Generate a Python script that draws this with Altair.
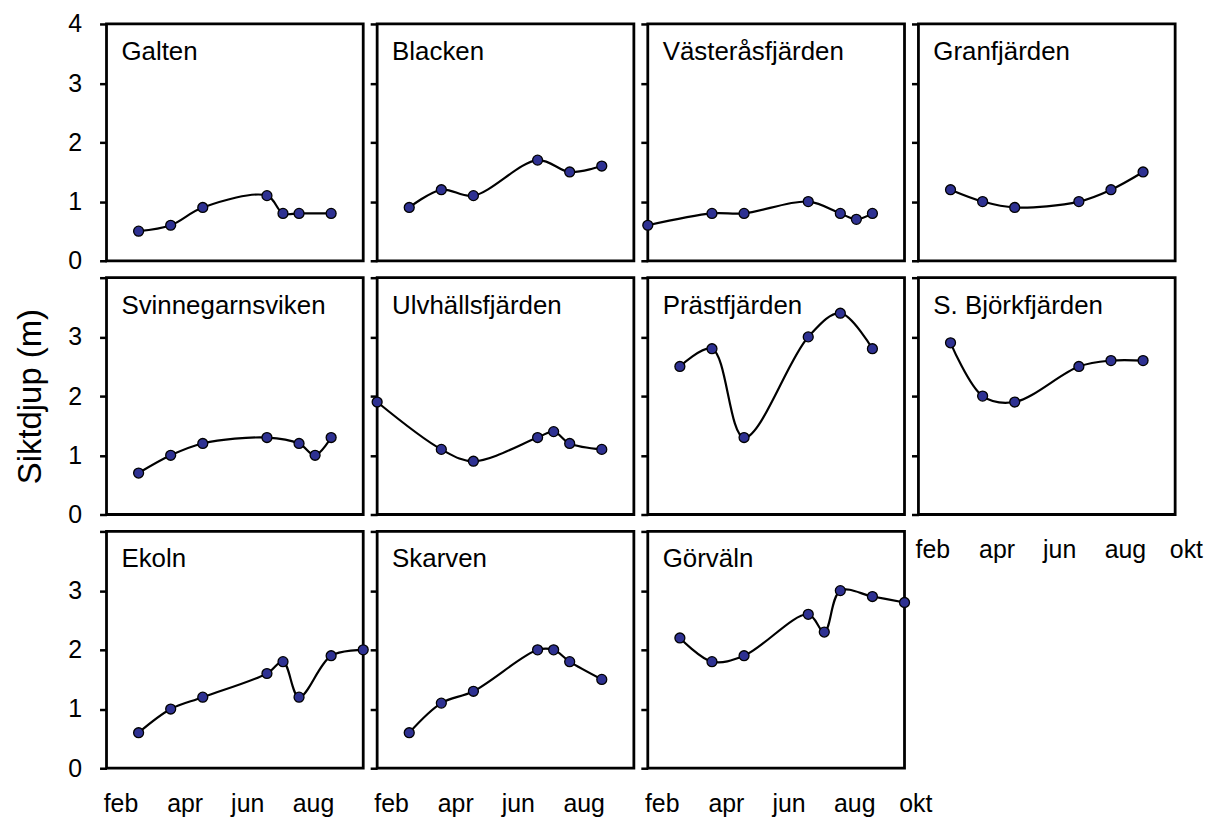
import altair as alt
import pandas as pd

FONT = "Liberation Sans"

# ---- data (months: 2 = 1 Feb, 3 = 1 Mar, ... 10 = 1 Oct) ----
lakes = ["Galten", "Blacken", "Västeråsfjärden", "Granfjärden",
         "Svinnegarnsviken", "Ulvhällsfjärden", "Prästfjärden", "S. Björkfjärden",
         "Ekoln", "Skarven", "Görväln"]

galten_month = [3, 4, 5, 7, 7.5, 8, 9]
galten_depth = [0.5, 0.6, 0.9, 1.1, 0.8, 0.8, 0.8]

blacken_month = [3, 4, 5, 7, 8, 9]
blacken_depth = [0.9, 1.2, 1.1, 1.7, 1.5, 1.6]

vasteras_month = [2, 4, 5, 7, 8, 8.5, 9]
vasteras_depth = [0.6, 0.8, 0.8, 1.0, 0.8, 0.7, 0.8]

granfjarden_month = [3, 4, 5, 7, 8, 9]
granfjarden_depth = [1.2, 1.0, 0.9, 1.0, 1.2, 1.5]

svinne_month = [3, 4, 5, 7, 8, 8.5, 9]
svinne_depth = [0.7, 1.0, 1.2, 1.3, 1.2, 1.0, 1.3]

ulv_month = [2, 4, 5, 7, 7.5, 8, 9]
ulv_depth = [1.9, 1.1, 0.9, 1.3, 1.4, 1.2, 1.1]

prast_month = [3, 4, 5, 7, 8, 9]
prast_depth = [2.5, 2.8, 1.3, 3.0, 3.4, 2.8]

bjork_month = [3, 4, 5, 7, 8, 9]
bjork_depth = [2.9, 2.0, 1.9, 2.5, 2.6, 2.6]

ekoln_month = [3, 4, 5, 7, 7.5, 8, 9, 10]
ekoln_depth = [0.6, 1.0, 1.2, 1.6, 1.8, 1.2, 1.9, 2.0]

skarven_month = [3, 4, 5, 7, 7.5, 8, 9]
skarven_depth = [0.6, 1.1, 1.3, 2.0, 2.0, 1.8, 1.5]

gorvaln_month = [3, 4, 5, 7, 7.5, 8, 9, 10]
gorvaln_depth = [2.2, 1.8, 1.9, 2.6, 2.3, 3.0, 2.9, 2.8]

month_labels = ["feb", "apr", "jun", "aug", "okt"]
month_label_pos = [2.45, 4.45, 6.4, 8.45, 10.35]
y_ticks = [0, 1, 2, 3, 4]

series = [
    (galten_month, galten_depth), (blacken_month, blacken_depth),
    (vasteras_month, vasteras_depth), (granfjarden_month, granfjarden_depth),
    (svinne_month, svinne_depth), (ulv_month, ulv_depth),
    (prast_month, prast_depth), (bjork_month, bjork_depth),
    (ekoln_month, ekoln_depth), (skarven_month, skarven_depth),
    (gorvaln_month, gorvaln_depth),
]
# how many month labels go below each panel (0 = none)
labels_below = [0, 0, 0, 0, 0, 0, 0, 5, 4, 4, 5]

W, H = 258, 238
XSCALE = alt.Scale(domain=[2, 10], nice=False)
YSCALE = alt.Scale(domain=[0, 4], nice=False)


def panel(i):
    name = lakes[i]
    months, depths = series[i]
    df = pd.DataFrame({"month": months, "depth": depths})
    col, row = i % 4, i // 4
    axis_kw = dict(values=y_ticks, tickSize=7, tickWidth=2.5, tickColor="black",
                   domain=False, grid=False)
    if col == 0:
        axis_kw.update(labels=True, labelFontSize=25, labelFont=FONT,
                       labelColor="black", labelPadding=18)
        if row > 0:
            axis_kw["labelExpr"] = "datum.value == 4 ? '' : datum.label"
    else:
        axis_kw.update(labels=False)
    if i == 4:
        axis_kw.update(title="Siktdjup (m)", titleFontSize=33, titleFont=FONT,
                       titleFontWeight="normal", titleColor="black", titlePadding=20)
    else:
        axis_kw.update(title=None)
    yaxis = alt.Axis(**axis_kw)

    x = alt.X("month:Q", scale=XSCALE, axis=None)
    y = alt.Y("depth:Q", scale=YSCALE, axis=yaxis)

    line = alt.Chart(df).mark_line(
        interpolate="catmull-rom", color="black", strokeWidth=2.2
    ).encode(x=x, y=y)
    pts = alt.Chart(df).mark_circle(
        size=100, color="#2E3192", opacity=1, stroke="black", strokeWidth=1.3
    ).encode(x=x, y=y)
    title = alt.Chart(pd.DataFrame({"name": [name]})).mark_text(
        align="left", baseline="top", fontSize=26, font=FONT, color="black"
    ).encode(x=alt.value(15), y=alt.value(15), text="name:N")

    layers = [line, pts, title]
    n = labels_below[i]
    if n:
        mdf = pd.DataFrame({"pos": month_label_pos[:n], "lab": month_labels[:n]})
        mtext = alt.Chart(mdf).mark_text(
            align="center", baseline="alphabetic", fontSize=25, font=FONT, color="black"
        ).encode(x=alt.X("pos:Q", scale=XSCALE, axis=None), y=alt.value(H + 44),
                 text="lab:N")
        layers.append(mtext)
    return alt.layer(*layers).properties(width=W, height=H)


chart = alt.concat(
    *[panel(i) for i in range(len(lakes))],
    columns=4,
    spacing=alt.RowColnumber(row=17, column=14),
    bounds="flush",
).configure_view(
    stroke="black", strokeWidth=2.8
).properties(
    padding={"top": 0, "bottom": 0, "left": 5, "right": 0},
    background="white",
)

chart.save("out.html", embed_options={"renderer": "svg", "actions": False})
